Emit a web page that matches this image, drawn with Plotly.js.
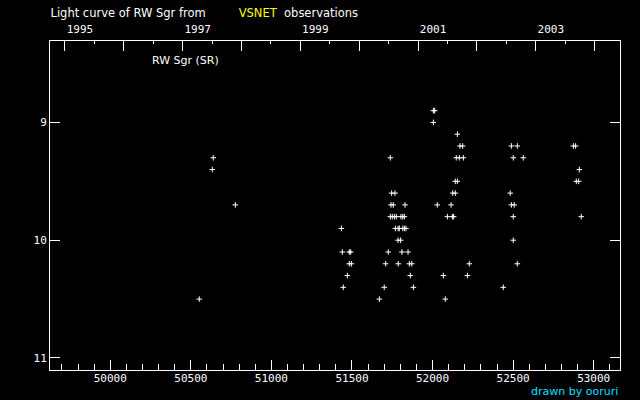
<!DOCTYPE html>
<html>
<head>
<meta charset="utf-8">
<script src="https://cdn.plot.ly/plotly-3.0.1.min.js"></script>
<style>html,body{margin:0;padding:0;background:#000;}#chart{width:640px;height:400px;}</style>
</head>
<body>
<div id="chart"></div>
<script>
// Observation dates (JD - 2400000) and visual magnitudes of RW Sgr
const jd = [
  50552, 50633, 50639, 50776,
  51434, 51440, 51446, 51471, 51483, 51492, 51483, 51496,
  51670, 51700, 51709, 51725, 51738,
  51746, 51767,
  51742, 51756, 51829,
  51738, 51750, 51763, 51775, 51804, 51815, 51825,
  51769, 51786, 51794, 51815, 51825, 51835,
  51786, 51802,
  51810, 51848,
  51787, 51856, 51871,
  51862, 51881,
  52005, 52013, 52005, 52154, 52170, 52187,
  52147, 52166, 52191, 52141, 52154, 52125, 52141,
  52029, 52115, 52092, 52123, 52131,
  52228, 52067, 52216, 52079,
  52489, 52526, 52501, 52563, 52482, 52489, 52507, 52501, 52501, 52526, 52439,
  52874, 52888, 52911, 52892, 52907, 52923
];
const mag = [
  10.5, 9.4, 9.3, 9.7,
  9.9, 10.1, 10.4, 10.3, 10.1, 10.1, 10.2, 10.2,
  10.5, 10.4, 10.2, 10.1, 9.3,
  9.6, 9.6,
  9.7, 9.7, 9.7,
  9.8, 9.8, 9.8, 9.8, 9.8, 9.8, 9.8,
  9.9, 9.9, 9.9, 9.9, 9.9, 9.9,
  10.0, 10.0,
  10.1, 10.1,
  10.2, 10.2, 10.2,
  10.3, 10.4,
  8.9, 8.9, 9.0, 9.1, 9.2, 9.2,
  9.3, 9.3, 9.3, 9.5, 9.5, 9.6, 9.6,
  9.7, 9.7, 9.8, 9.8, 9.8,
  10.2, 10.3, 10.3, 10.5,
  9.2, 9.2, 9.3, 9.3, 9.6, 9.7, 9.7, 9.8, 10.0, 10.2, 10.4,
  9.2, 9.2, 9.4, 9.5, 9.5, 9.8
];
const jdRange = [49625.8, 53163.3];
const magRange = [11.102, 8.3085];
const jdYear1995 = 49718.5;
const yearTicks = [1995, 1996, 1997, 1998, 1999, 2000, 2001, 2002, 2003, 2004];
const yearLabels = ['1995', '', '1997', '', '1999', '', '2001', '', '2003', ''];
const toYear = d => 1995 + (d - jdYear1995) / 365.25;

const monoFont = {family: 'DejaVu Sans Mono, monospace', size: 11, color: '#ffffff'};
const sansFont = {family: 'DejaVu Sans, sans-serif', size: 11, color: '#ffffff'};
const titleFont = {family: 'DejaVu Sans, sans-serif', size: 11.5, color: '#ffffff'};

const trace = {
  x: jd, y: mag, type: 'scatter', mode: 'markers',
  marker: {symbol: 'cross-thin', size: 4, color: '#ffffff', line: {color: '#ffffff', width: 1}},
  hoverinfo: 'skip', showlegend: false
};
// invisible trace to activate top year axis
const yearTrace = {
  x: jdRange.map(toYear), y: [10, 10], xaxis: 'x2', type: 'scatter', mode: 'none',
  hoverinfo: 'skip', showlegend: false
};

const nb = n => '\u00A0'.repeat(n);

const layout = {
  width: 640, height: 400,
  paper_bgcolor: '#000000', plot_bgcolor: '#000000',
  margin: {l: 50, r: 20, t: 41, b: 30, pad: 0},
  font: sansFont,
  showlegend: false,
  hovermode: false,
  title: {
    text: 'Light curve of RW Sgr from' + nb(9) + '<span style="color:#ffff00">VSNET</span>' + nb(2) + 'observations',
    font: titleFont, x: 50.5 / 640, xanchor: 'left', xref: 'container',
    y: 1 - 12.5 / 400, yanchor: 'middle', yref: 'container'
  },
  xaxis: {
    range: jdRange, showgrid: false, zeroline: false,
    showline: true, linecolor: '#ffffff', linewidth: 1, mirror: true,
    ticks: 'inside', ticklen: 10, tickcolor: '#ffffff', tickwidth: 1,
    tickmode: 'linear', tick0: 50000, dtick: 500,
    minor: {ticks: 'inside', ticklen: 6, tickcolor: '#ffffff', tickwidth: 1, tick0: 50000, dtick: 100},
    tickfont: monoFont, tickformat: 'd', ticklabelstandoff: -2
  },
  xaxis2: {
    overlaying: 'x', side: 'top', anchor: 'y',
    range: jdRange.map(toYear), showgrid: false, zeroline: false, showline: false,
    ticks: 'inside', ticklen: 10, tickcolor: '#ffffff', tickwidth: 1,
    tickmode: 'array', tickvals: yearTicks, ticktext: yearLabels,
    minor: {ticks: 'inside', ticklen: 3, tickcolor: '#ffffff', tickwidth: 1, tick0: 1995, dtick: 0.5},
    tickfont: monoFont, ticklabelshift: 15, ticklabelstandoff: 5
  },
  yaxis: {
    range: magRange, showgrid: false, zeroline: false,
    showline: true, linecolor: '#ffffff', linewidth: 1, mirror: 'ticks',
    ticks: 'inside', ticklen: 10, tickcolor: '#ffffff', tickwidth: 1,
    tickmode: 'linear', tick0: 9, dtick: 1,
    tickfont: monoFont
  },
  annotations: [
    {text: 'RW Sgr (SR)', xref: 'paper', yref: 'paper', x: 100 / 570, y: (370.3 - 60.7) / 329.6,
     xanchor: 'left', yanchor: 'middle', showarrow: false, font: sansFont},
    {text: 'drawn by ooruri', xref: 'paper', yref: 'paper', x: 1, y: (370.3 - 392) / 329.6,
     xanchor: 'right', yanchor: 'middle', showarrow: false,
     font: {family: 'DejaVu Sans, sans-serif', size: 11, color: '#00e0ff'}}
  ]
};

Plotly.newPlot('chart', [trace, yearTrace], layout, {displayModeBar: false, staticPlot: true});
</script>
</body>
</html>
